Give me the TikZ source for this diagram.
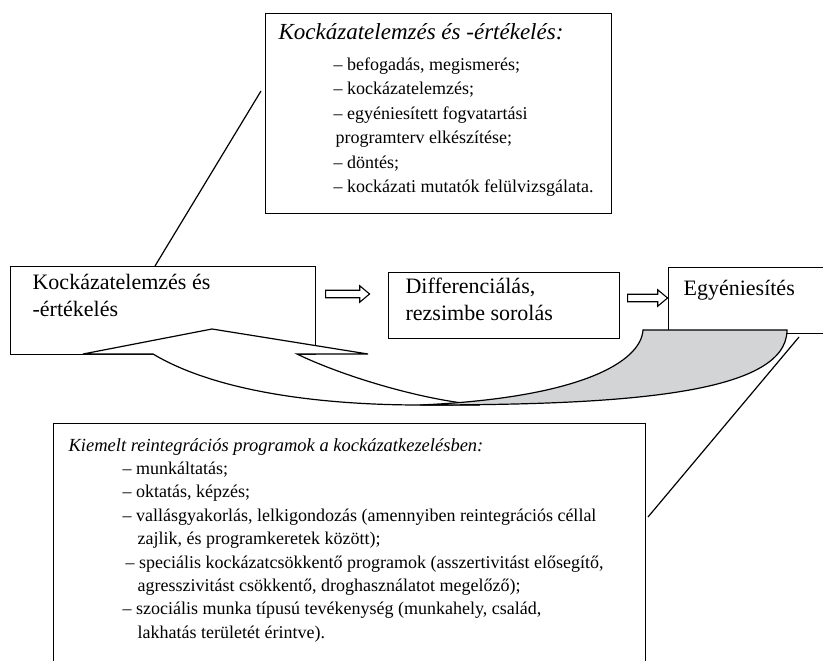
\documentclass[tikz,border=0pt]{standalone}
\usepackage{fontspec}
\setmainfont{Liberation Serif}
\usetikzlibrary{positioning,shapes.arrows}

\definecolor{tailgray}{RGB}{211,212,214}
\newcommand{\boxlines}[1]{\begin{tabular}[t]{@{}l@{}}#1\end{tabular}}

\tikzset{
  frame/.style={draw, line width=1.2pt, fill=white, inner sep=0pt, anchor=north west},
  bigtext/.style={font=\fontsize{22}{27}\selectfont, inner sep=0pt},
  smalltext/.style={font=\fontsize{18}{23.4}\selectfont, inner sep=0pt},
  blockarrow/.style={single arrow, draw, line width=1.1pt, inner sep=3.2pt,
    single arrow head extend=4.5pt, single arrow tip angle=80,
    minimum height=44pt, anchor=tail},
}

\begin{document}
\begin{tikzpicture}[x=1pt, y=-1pt, line width=1.2pt]
\useasboundingbox (0,0) rectangle (823,661);
\clip (0,0) rectangle (823,661);

% the three stages
\node[frame, minimum width=305pt, minimum height=88pt] (kock) at (10,266) {};
\node[frame, minimum width=231pt, minimum height=66pt] (diff) at (388,272) {};
\node[frame, minimum width=170pt, minimum height=66pt] (egy) at (668,267) {};

\node[bigtext, below right=23pt and 22pt of kock.north west, anchor=base west] (kocktext) {\boxlines{Kockázatelemzés és\\-értékelés}};
\node[bigtext, below right=21pt and 17pt of diff.north west, anchor=base west] (difftext) {\boxlines{Differenciálás,\\rezsimbe sorolás}};
\node[bigtext, below right=28pt and 15pt of egy.north west, anchor=base west] (egytext) {Egyéniesítés};

\node[blockarrow] (arrA) at (325,294) {};
\node[blockarrow, minimum height=40pt] (arrB) at (627,298) {};

% curved arrow back to the first stage
\draw[fill=white] (153,354) -- (83,354) -- (212,329) -- (368,354) -- (297,354)
  .. controls (340,375) and (420,400) .. (480,405) -- (420,405)
  .. controls (330,405) and (220,394) .. (153,354) -- cycle;
\draw[fill=tailgray] (643,330) -- (787,330) .. controls (787,395) and (620,405) .. (420,405)
  .. controls (580,398) and (641,362) .. (643,330) -- cycle;

% callout boxes
\node[frame, minimum width=346pt, minimum height=200pt] (elemzes) at (265,13) {};
\node[frame, minimum width=592pt, minimum height=280pt] (programok) at (53,423) {};

\coordinate (ea) at (261,91);
\coordinate (eb) at (155,266);
\coordinate (pa) at (799,337);
\coordinate (pb) at (648,517);
\draw (ea) -- (eb);
\draw (pa) -- (pb);

\node[smalltext, font=\fontsize{18}{24.5}\selectfont, below right=27pt and 13pt of elemzes.north west, anchor=base west] (elemzestext) {\boxlines{%
{\fontsize{23}{27}\selectfont\itshape Kockázatelemzés és -értékelés:}\\[6pt]
\hspace*{55pt}– befogadás, megismerés;\\
\hspace*{55pt}– kockázatelemzés;\\
\hspace*{55pt}– egyéniesített fogvatartási\\
\hspace*{57pt}programterv elkészítése;\\
\hspace*{55pt}– döntés;\\
\hspace*{55pt}– kockázati mutatók felülvizsgálata.}};

\node[smalltext, below right=28pt and 15pt of programok.north west, anchor=base west] (programoktext) {\boxlines{%
{\fontsize{18.5}{23.4}\selectfont\itshape Kiemelt reintegrációs programok a kockázatkezelésben:}\\
\hspace*{54pt}– munkáltatás;\\
\hspace*{54pt}– oktatás, képzés;\\
\hspace*{54pt}– vallásgyakorlás, lelkigondozás (amennyiben reintegrációs céllal\\
\hspace*{69pt}zajlik, és programkeretek között);\\
\hspace*{57pt}– speciális kockázatcsökkentő programok (asszertivitást elősegítő,\\
\hspace*{69pt}agresszivitást csökkentő, droghasználatot megelőző);\\
\hspace*{54pt}– szociális munka típusú tevékenység (munkahely, család,\\
\hspace*{69pt}lakhatás területét érintve).}};
\end{tikzpicture}
\end{document}
